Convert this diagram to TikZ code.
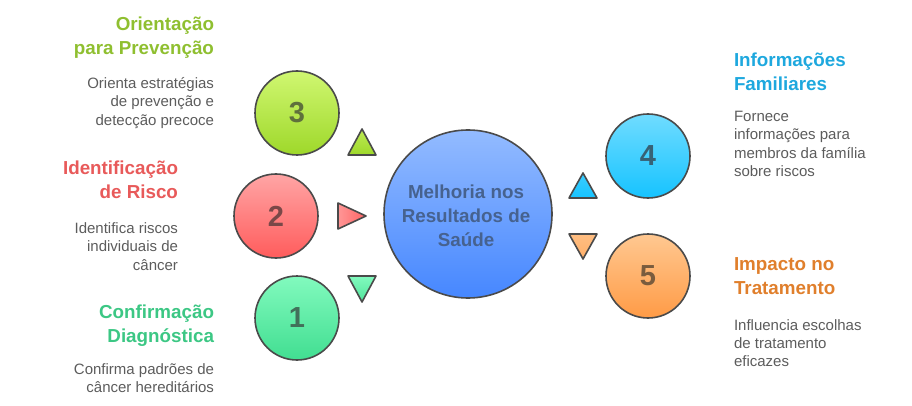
\documentclass[tikz,border=0pt]{standalone}
\usepackage{fontspec}
\setmainfont{Liberation Sans}
\usepackage{tikz}
\usetikzlibrary{positioning}
\definecolor{linegray}{HTML}{4A4A4A}
\definecolor{bodygray}{HTML}{5C5C5C}
\definecolor{limetitle}{HTML}{8FBF30}
\definecolor{redtitle}{HTML}{E85A5A}
\definecolor{greentitle}{HTML}{3CC784}
\definecolor{bluetitle}{HTML}{1EA8DE}
\definecolor{orangetitle}{HTML}{E07F2C}

\begin{document}
\begin{tikzpicture}[x=1pt, y=-1pt,
            every node/.style={inner sep=0pt, outer sep=0pt},
            hub/.style={circle, draw=linegray, line width=1.6pt, minimum size=#1, font=\fontsize{29}{29}\selectfont\bfseries},
            hub/.default=84pt,
            marker/.style={draw=linegray, line width=1.6pt, line join=round},
            heading/.style={font=\fontsize{18.8}{24}\selectfont\bfseries, text depth=5pt},
            detail/.style={font=\fontsize{15}{18.3}\selectfont, text=bodygray},
        ]
        \useasboundingbox (0,0) rectangle (912,406);

        % center
        \node[hub=168pt, top color={rgb,255:red,147;green,187;blue,255}, bottom color={rgb,255:red,70;green,135;blue,255}] (center) at (468,214) {};
        \node[align=center, text={rgb,255:red,70;green,98;blue,143}, font=\fontsize{18.8}{24}\selectfont\bfseries] (centertxt) at (466,216)
            {Melhoria nos\\Resultados de\\Saúde};

        % numbered circles
        \node[hub, top color={rgb,255:red,208;green,247;blue,113}, bottom color={rgb,255:red,158;green,216;blue,42}, text={rgb,255:red,95;green,112;blue,60}] (three) at (297,113) {3};
        \node[hub, top color={rgb,255:red,255;green,165;blue,165}, bottom color={rgb,255:red,255;green,92;blue,92}, text={rgb,255:red,122;green,72;blue,72}] (two) at (276,216) {2};
        \node[hub, top color={rgb,255:red,130;green,250;blue,190}, bottom color={rgb,255:red,65;green,222;blue,145}, text={rgb,255:red,66;green,112;blue,90}] (one) at (297,318) {1};
        \node[hub, top color={rgb,255:red,112;green,220;blue,255}, bottom color={rgb,255:red,22;green,195;blue,255}, text={rgb,255:red,55;green,98;blue,118}] (four) at (648,156) {4};
        \node[hub, top color={rgb,255:red,255;green,200;blue,145}, bottom color={rgb,255:red,255;green,155;blue,70}, text={rgb,255:red,122;green,92;blue,62}] (five) at (648,276) {5};

        % markers
        \draw[marker, top color={rgb,255:red,190;green,235;blue,85}, bottom color={rgb,255:red,158;green,216;blue,42}] (362,129) -- (376,155) -- (348,155) -- cycle;
        \draw[marker, left color={rgb,255:red,255;green,150;blue,150}, right color={rgb,255:red,255;green,100;blue,100}] (338,203) -- (366,216) -- (338,229) -- cycle;
        \draw[marker, top color={rgb,255:red,130;green,250;blue,190}, bottom color={rgb,255:red,80;green,228;blue,155}] (348,276) -- (376,276) -- (362,302) -- cycle;
        \draw[marker, top color={rgb,255:red,60;green,205;blue,255}, bottom color={rgb,255:red,22;green,195;blue,255}] (583,173) -- (597,198) -- (569,198) -- cycle;
        \draw[marker, top color={rgb,255:red,255;green,190;blue,130}, bottom color={rgb,255:red,255;green,175;blue,105}] (569,234) -- (597,234) -- (583,259) -- cycle;

        % left texts
        \node[heading, text=limetitle, align=right, anchor=north east] (prevencao) at (214,17) {Orientação\\para Prevenção};
        \node[detail, align=right, below=18pt of prevencao.south east, anchor=north east] (prevencaotxt) {Orienta estratégias\\de prevenção e\\detecção precoce};
        \node[heading, text=redtitle, align=right, anchor=north east] (risco) at (178,161) {Identificação\\de Risco};
        \node[detail, align=right, below=19pt of risco.south east, anchor=north east] (riscotxt) {Identifica riscos\\individuais de\\câncer};
        \node[heading, text=greentitle, align=right, anchor=north east] (diagnostico) at (214,305) {Confirmação\\Diagnóstica};
        \node[detail, align=right, below=16pt of diagnostico.south east, anchor=north east] (diagnosticotxt) {Confirma padrões de\\câncer hereditários};

        % right texts
        \node[heading, text=bluetitle, align=left, anchor=north west] (familia) at (734,53) {Informações\\Familiares};
        \node[detail, align=left, below=15.5pt of familia.south west, anchor=north west] (familiatxt) {Fornece\\informações para\\membros da família\\sobre riscos};
        \node[heading, text=orangetitle, align=left, anchor=north west] (tratamento) at (734,258) {Impacto no\\Tratamento};
        \node[detail, align=left, below=19.5pt of tratamento.south west, anchor=north west] (tratamentotxt) {Influencia escolhas\\de tratamento\\eficazes};
    \end{tikzpicture}
\end{document}
